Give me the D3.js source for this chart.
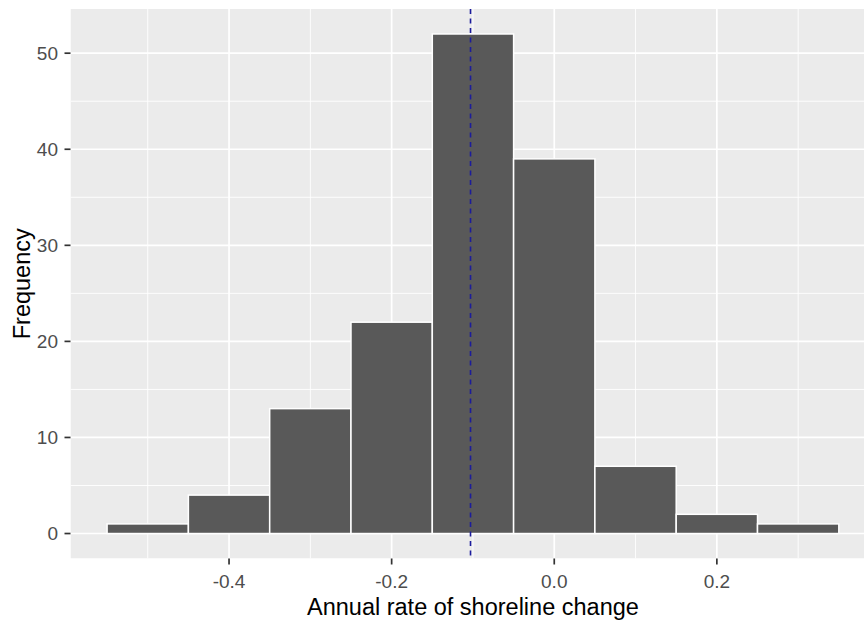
<!DOCTYPE html>
<html>
<head>
<meta charset="utf-8">
<script src="https://cdn.jsdelivr.net/npm/d3@7"></script>
<style>
  html, body { margin: 0; padding: 0; background: #fff; }
  svg { display: block; font-family: "Liberation Sans", Arial, sans-serif; }
</style>
</head>
<body>
<div id="chart"></div>
<script>
// histogram bins (left edge, right edge) and counts
var binStarts = [-0.55, -0.45, -0.35, -0.25, -0.15, -0.05, 0.05, 0.15, 0.25];
var binEnds   = [-0.45, -0.35, -0.25, -0.15, -0.05, 0.05, 0.15, 0.25, 0.35];
var counts    = [1, 4, 13, 22, 52, 39, 7, 2, 1];
var meanRate  = -0.103;

var xTicks      = [-0.4, -0.2, 0.0, 0.2];
var xTickLabels = ['-0.4', '-0.2', '0.0', '0.2'];
var xMinor      = [-0.5, -0.3, -0.1, 0.1, 0.3];
var yTicks      = [0, 10, 20, 30, 40, 50];
var yMinor      = [5, 15, 25, 35, 45];

var width = 864, height = 622;

var svg = d3.select('#chart')
  .append('svg')
  .attr('width', width)
  .attr('height', height);

var panel = { left: 70.5, right: 875.4, top: 9, bottom: 558.5 };

var x = d3.scaleLinear()
  .domain([-0.595, 0.395])
  .range([panel.left, panel.right]);

var y = d3.scaleLinear()
  .domain([-2.6, 54.6])
  .range([panel.bottom, panel.top]);

svg.append('defs')
  .append('clipPath')
  .attr('id', 'panel-clip')
  .append('rect')
  .attr('x', panel.left)
  .attr('y', panel.top)
  .attr('width', panel.right - panel.left)
  .attr('height', panel.bottom - panel.top);

var g = svg.append('g').attr('clip-path', 'url(#panel-clip)');

g.append('rect')
  .attr('x', panel.left)
  .attr('y', panel.top)
  .attr('width', panel.right - panel.left)
  .attr('height', panel.bottom - panel.top)
  .attr('fill', '#EBEBEB');

// minor grid
g.selectAll('line.xminor').data(xMinor).enter().append('line')
  .attr('x1', function(d) { return x(d); })
  .attr('x2', function(d) { return x(d); })
  .attr('y1', panel.top).attr('y2', panel.bottom)
  .attr('stroke', '#fff').attr('stroke-width', 0.9);
g.selectAll('line.yminor').data(yMinor).enter().append('line')
  .attr('y1', function(d) { return y(d); })
  .attr('y2', function(d) { return y(d); })
  .attr('x1', panel.left).attr('x2', panel.right)
  .attr('stroke', '#fff').attr('stroke-width', 0.9);

// major grid
g.selectAll('line.xmajor').data(xTicks).enter().append('line')
  .attr('x1', function(d) { return x(d); })
  .attr('x2', function(d) { return x(d); })
  .attr('y1', panel.top).attr('y2', panel.bottom)
  .attr('stroke', '#fff').attr('stroke-width', 1.7);
g.selectAll('line.ymajor').data(yTicks).enter().append('line')
  .attr('y1', function(d) { return y(d); })
  .attr('y2', function(d) { return y(d); })
  .attr('x1', panel.left).attr('x2', panel.right)
  .attr('stroke', '#fff').attr('stroke-width', 1.7);

// bars
g.selectAll('rect.bar').data(counts).enter().append('rect')
  .attr('class', 'bar')
  .attr('x', function(d, i) { return x(binStarts[i]); })
  .attr('width', function(d, i) { return x(binEnds[i]) - x(binStarts[i]); })
  .attr('y', function(d) { return y(d); })
  .attr('height', function(d) { return y(0) - y(d); })
  .attr('fill', '#595959')
  .attr('stroke', '#fff')
  .attr('stroke-width', 1.5);

// mean line
g.append('line')
  .attr('x1', x(meanRate)).attr('x2', x(meanRate))
  .attr('y1', panel.top).attr('y2', panel.bottom)
  .attr('stroke', '#1c1c9c')
  .attr('stroke-width', 1.6)
  .attr('stroke-dasharray', '5,4.5');

// axes ticks + labels
var axes = svg.append('g');

axes.selectAll('line.xtick').data(xTicks).enter().append('line')
  .attr('x1', function(d) { return x(d); })
  .attr('x2', function(d) { return x(d); })
  .attr('y1', panel.bottom).attr('y2', panel.bottom + 6)
  .attr('stroke', '#333').attr('stroke-width', 1.7);
axes.selectAll('text.xlab').data(xTicks).enter().append('text')
  .attr('x', function(d) { return x(d); })
  .attr('y', 588)
  .attr('text-anchor', 'middle')
  .attr('font-size', 19)
  .attr('fill', '#4D4D4D')
  .text(function(d, i) { return xTickLabels[i]; });

axes.selectAll('line.ytick').data(yTicks).enter().append('line')
  .attr('y1', function(d) { return y(d); })
  .attr('y2', function(d) { return y(d); })
  .attr('x1', panel.left - 6).attr('x2', panel.left)
  .attr('stroke', '#333').attr('stroke-width', 1.7);
axes.selectAll('text.ylab').data(yTicks).enter().append('text')
  .attr('x', 58)
  .attr('y', function(d) { return y(d) + 6.8; })
  .attr('text-anchor', 'end')
  .attr('font-size', 19)
  .attr('fill', '#4D4D4D')
  .text(function(d) { return d; });

// titles
svg.append('text')
  .attr('x', (panel.left + panel.right) / 2)
  .attr('y', 615)
  .attr('text-anchor', 'middle')
  .attr('font-size', 23.5)
  .attr('fill', '#000')
  .text('Annual rate of shoreline change');

svg.append('text')
  .attr('transform', 'translate(30,' + ((panel.top + panel.bottom) / 2) + ') rotate(-90)')
  .attr('text-anchor', 'middle')
  .attr('font-size', 23.5)
  .attr('fill', '#000')
  .text('Frequency');
</script>
</body>
</html>
